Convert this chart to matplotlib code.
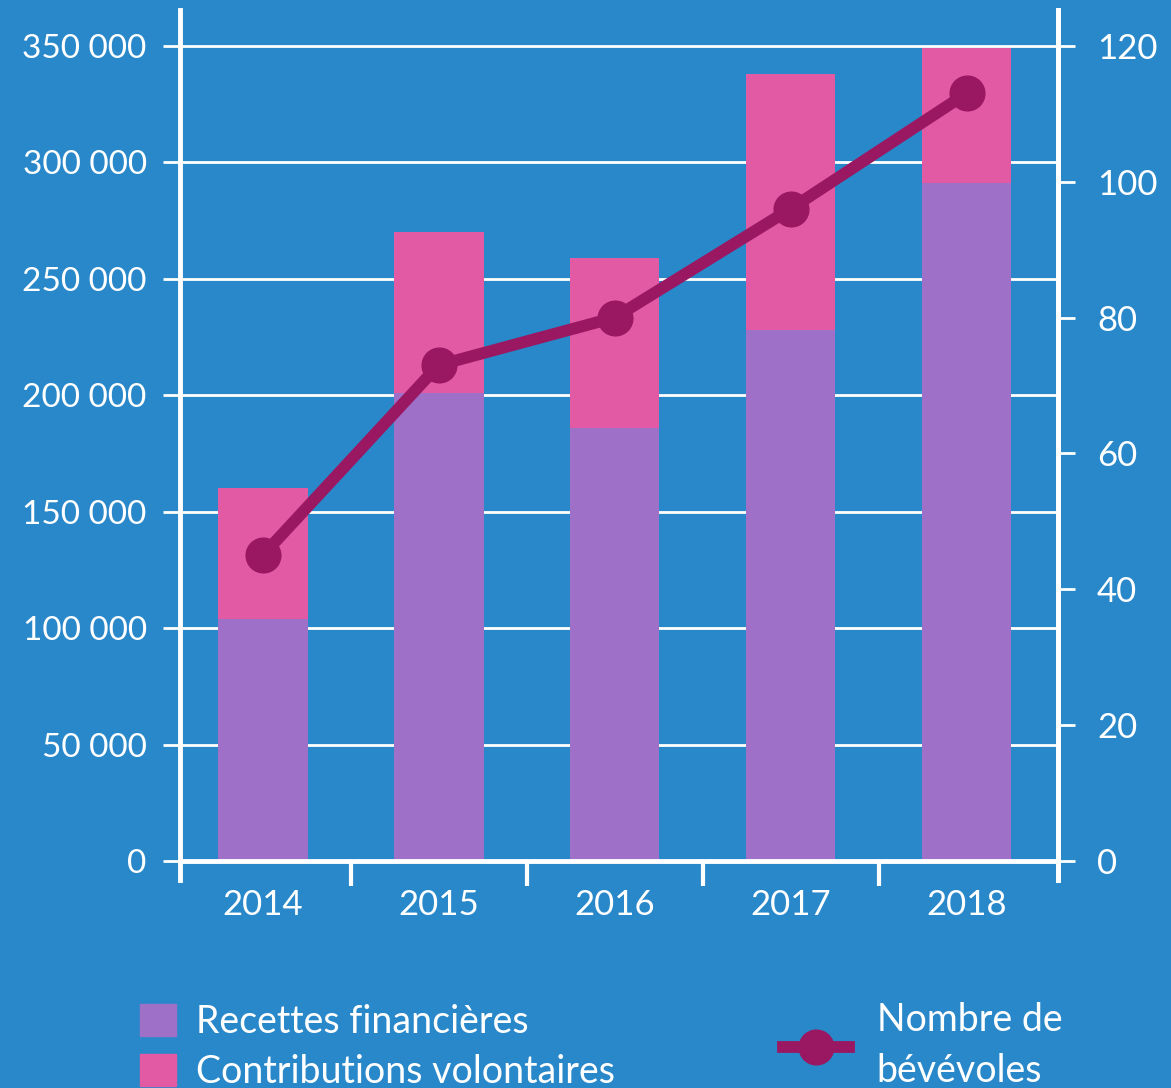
import matplotlib
matplotlib.use("Agg")
import matplotlib.pyplot as plt
from matplotlib.patches import Patch
from matplotlib.lines import Line2D
from matplotlib.ticker import FuncFormatter

years = ["2014", "2015", "2016", "2017", "2018"]
recettes = [104000, 201000, 186000, 228000, 291000]
contributions = [56000, 69000, 73000, 110000, 58000]
benevoles = [45, 73, 80, 96, 113]
left_ticks = [0, 50000, 100000, 150000, 200000, 250000, 300000, 350000]
right_ticks = [0, 20, 40, 60, 80, 100, 120]

BG = "#2988CA"
PURPLE = "#9E70C8"
PINK = "#E15AA3"
LINE = "#9A1862"
WHITE = "white"

plt.rcParams["font.family"] = ["Lato", "DejaVu Sans"]
FS = 25
YFS = 24
LFS = 27

fig = plt.figure(figsize=(11.71, 10.88), dpi=100, facecolor=BG)
ax = fig.add_axes([180/1171, 1-880/1088, 878/1171, 870/1088])
ax.set_facecolor(BG)

x = list(range(len(years)))
ax.bar(x, recettes, width=0.51, color=PURPLE, zorder=2)
ax.bar(x, contributions, bottom=recettes, width=0.51, color=PINK, zorder=2)

ymax = 350000
lo, hi = -8160, 365400
ax.set_ylim(lo, hi)
ax.set_xlim(-0.47, 4.52)

ax.set_yticks(left_ticks)
ax.yaxis.set_major_formatter(FuncFormatter(lambda v, p: f"{int(v):,}".replace(",", " ")))
ax.grid(axis="y", color=WHITE, linewidth=2.0, zorder=0)
ax.set_axisbelow(True)
ax.tick_params(axis="y", colors=WHITE, length=12, width=2, pad=12, labelsize=YFS, labelcolor=WHITE)

ax.spines["top"].set_visible(False)
ax.spines["left"].set_color(WHITE)
ax.spines["left"].set_linewidth(3.5)
ax.spines["right"].set_color(WHITE)
ax.spines["right"].set_linewidth(3.5)
ax.spines["bottom"].set_position(("data", 0))
ax.spines["bottom"].set_color(WHITE)
ax.spines["bottom"].set_linewidth(3.5)
ax.spines["bottom"].set_zorder(3)

ax.set_xticks([0.5, 1.5, 2.5, 3.5])
ax.set_xticklabels([])
ax.tick_params(axis="x", which="major", direction="out", length=18, width=3, colors=WHITE)
ax.set_xticks(x, minor=True)
ax.set_xticklabels(years, minor=True)
ax.tick_params(axis="x", which="minor", length=0, pad=20, labelsize=FS, labelcolor=WHITE)

ax2 = ax.twinx()
ax2.set_facecolor("none")
scale = 120 / ymax
ax2.set_ylim(lo * scale, hi * scale)
ax2.set_yticks(right_ticks)
ax2.tick_params(axis="y", colors=WHITE, length=12, width=2, pad=16, labelsize=FS, labelcolor=WHITE)
for s in ["top", "bottom", "left"]:
    ax2.spines[s].set_visible(False)
ax2.spines["right"].set_color(WHITE)
ax2.spines["right"].set_linewidth(3.5)
ax2.plot(x, benevoles, color=LINE, linewidth=8.5, marker="o", markersize=25,
         solid_capstyle="round", zorder=5)

h1 = [Patch(color=PURPLE, label="Recettes financières"),
      Patch(color=PINK, label="Contributions volontaires")]
leg1 = fig.legend(handles=h1, loc="upper left", bbox_to_anchor=(140/1171, 1-1004/1088),
                  frameon=False, fontsize=LFS, handlelength=0.95, handleheight=0.95,
                  handletextpad=0.55, labelspacing=0.36, borderpad=0, borderaxespad=0,
                  labelcolor=WHITE)

h2 = [Line2D([0], [0], color=LINE, linewidth=8.5, marker="o", markersize=25,
             label="Nombre de\nbévévoles")]
leg2 = fig.legend(handles=h2, loc="upper left", bbox_to_anchor=(783/1171, 1-1002/1088),
                  frameon=False, fontsize=LFS, handlelength=1.75, handletextpad=0.75,
                  borderpad=0, borderaxespad=0, labelcolor=WHITE)
for t in leg2.get_texts():
    t.set_linespacing(1.5)

fig.savefig("out.png", dpi=100, facecolor=BG)
